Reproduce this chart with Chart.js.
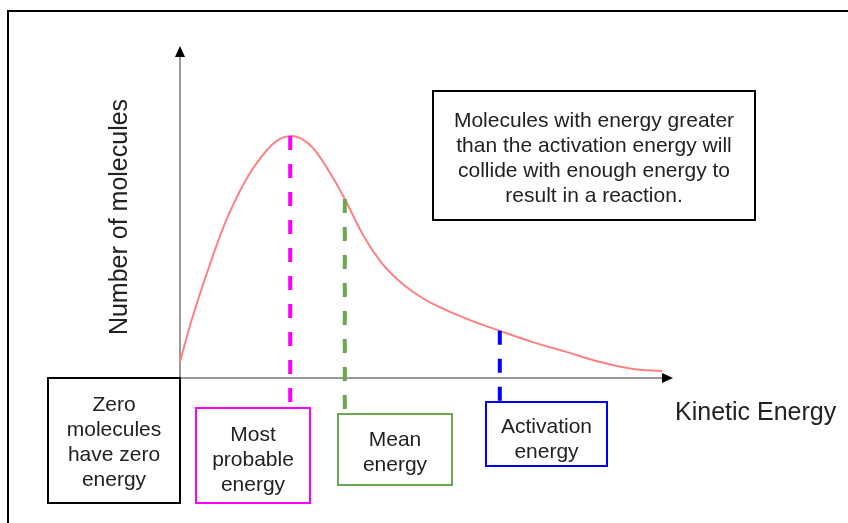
<!DOCTYPE html>
<html>
<head>
<meta charset="utf-8">
<script src="https://cdn.jsdelivr.net/npm/chart.js@4/dist/chart.umd.min.js"></script>
<style>
  body { margin: 0; background: #fff; }
  canvas { display: block; }
</style>
</head>
<body>
<canvas id="myChart" width="848" height="523"></canvas>
<script>
// distribution curve, arbitrary units (energy 0-100, molecules 0-100)
const energy = [0, 1.2, 3, 6.1, 9.6, 13.6, 17.7, 20.3, 22.4, 24.4, 27, 30.1, 33.5, 37.2, 40.7, 44.1, 47.4, 51.4, 58.3, 65, 71.7, 78.7, 85.4, 92.1, 98]
const molecules = [4.8, 11.4, 20.5, 34.3, 48.2, 60.2, 68.7, 72, 72.9, 72.3, 69.3, 62.7, 53.9, 43.1, 35.2, 29.8, 25.9, 22.3, 17.8, 14.2, 10.8, 7.8, 4.8, 2.7, 2.1]

// marker lines: energy, top (on curve), bottom (down to its label box)
const markerNames = ['Most probable energy', 'Mean energy', 'Activation energy']
const markerEnergy = [22.4, 33.5, 65]
const markerTop = [72.9, 53.9, 14.2]
const markerBottom = [-9.1, -10.8, -7.1]
const markerColors = ['#ff00ff', '#6aa84f', '#0000ff']

const FONT = '"Liberation Sans", Arial, sans-serif'

// label boxes (pixels)
const notes = [
  { lines: ['Zero', 'molecules', 'have zero', 'energy'], x: 48, y: 378, w: 132, h: 125, color: '#000', first: 405 },
  { lines: ['Most', 'probable', 'energy'], x: 196, y: 408, w: 114, h: 95, color: '#ff00ff', first: 435 },
  { lines: ['Mean', 'energy'], x: 338, y: 414, w: 114, h: 71, color: '#6aa84f', first: 440 },
  { lines: ['Activation', 'energy'], x: 486, y: 402, w: 121, h: 64, color: '#0000ff', first: 427 },
  { lines: ['Molecules with energy greater', 'than the activation energy will', 'collide with enough energy to', 'result in a reaction.'], x: 433, y: 91, w: 322, h: 129, color: '#000', first: 121 }
]

const markerSets = markerEnergy.map((e, i) => ({
  label: markerNames[i],
  data: [{ x: e, y: markerTop[i] }, { x: e, y: markerBottom[i] }],
  borderColor: markerColors[i],
  borderWidth: 4,
  borderDash: [14, 14],
  pointRadius: 0,
  clip: false
}))

const drawing = {
  id: 'drawing',
  beforeDraw(chart) {
    const c = chart.ctx
    c.save()
    c.fillStyle = '#fff'
    c.fillRect(0, 0, chart.width, chart.height)
    c.strokeStyle = '#000'
    c.lineWidth = 2
    c.beginPath()
    c.moveTo(8, 523)
    c.lineTo(8, 11)
    c.lineTo(848, 11)
    c.stroke()
    c.restore()
  },
  beforeDatasetsDraw(chart) {
    const c = chart.ctx
    const x0 = chart.scales.x.getPixelForValue(0)
    const y0 = chart.scales.y.getPixelForValue(0)
    const top = chart.chartArea.top
    const right = chart.chartArea.right
    c.save()
    c.strokeStyle = '#999'
    c.lineWidth = 2
    c.beginPath()
    c.moveTo(x0, y0)
    c.lineTo(x0, top + 10)
    c.moveTo(153, y0)
    c.lineTo(right - 10, y0)
    c.stroke()
    c.fillStyle = '#000'
    c.beginPath()
    c.moveTo(x0, top)
    c.lineTo(x0 - 5, top + 11)
    c.lineTo(x0 + 5, top + 11)
    c.closePath()
    c.fill()
    c.beginPath()
    c.moveTo(right + 1, y0)
    c.lineTo(right - 10, y0 - 5)
    c.lineTo(right - 10, y0 + 5)
    c.closePath()
    c.fill()
    c.restore()
  },
  afterDraw(chart) {
    const c = chart.ctx
    c.save()
    notes.forEach(n => {
      c.fillStyle = '#fff'
      c.fillRect(n.x, n.y, n.w, n.h)
      c.strokeStyle = n.color
      c.lineWidth = 2
      c.strokeRect(n.x, n.y, n.w, n.h)
      c.fillStyle = '#222'
      c.font = '21px ' + FONT
      c.textAlign = 'center'
      c.textBaseline = 'middle'
      n.lines.forEach((t, k) => c.fillText(t, n.x + n.w / 2, n.first + k * 25))
    })
    c.font = '25px ' + FONT
    c.textAlign = 'left'
    c.fillText('Kinetic Energy', 675, 413)
    c.translate(120, 217)
    c.rotate(-Math.PI / 2)
    c.textAlign = 'center'
    c.fillText('Number of molecules', 0, 0)
    c.restore()
  }
}

new Chart(document.getElementById('myChart'), {
  type: 'line',
  data: {
    datasets: [
      ...markerSets,
      {
        label: 'Number of molecules',
        data: energy.map((e, i) => ({ x: e, y: molecules[i] })),
        borderColor: '#ff8080',
        borderWidth: 2,
        pointRadius: 0,
        tension: 0.4,
        clip: false
      }
    ]
  },
  options: {
    responsive: false,
    animation: false,
    layout: { padding: { left: 180, right: 176, top: 46, bottom: 145 } },
    plugins: { legend: { display: false }, tooltip: { enabled: false } },
    scales: {
      x: { type: 'linear', min: 0, max: 100, display: false },
      y: { min: 0, max: 100, display: false }
    }
  },
  plugins: [drawing]
})
</script>
</body>
</html>
